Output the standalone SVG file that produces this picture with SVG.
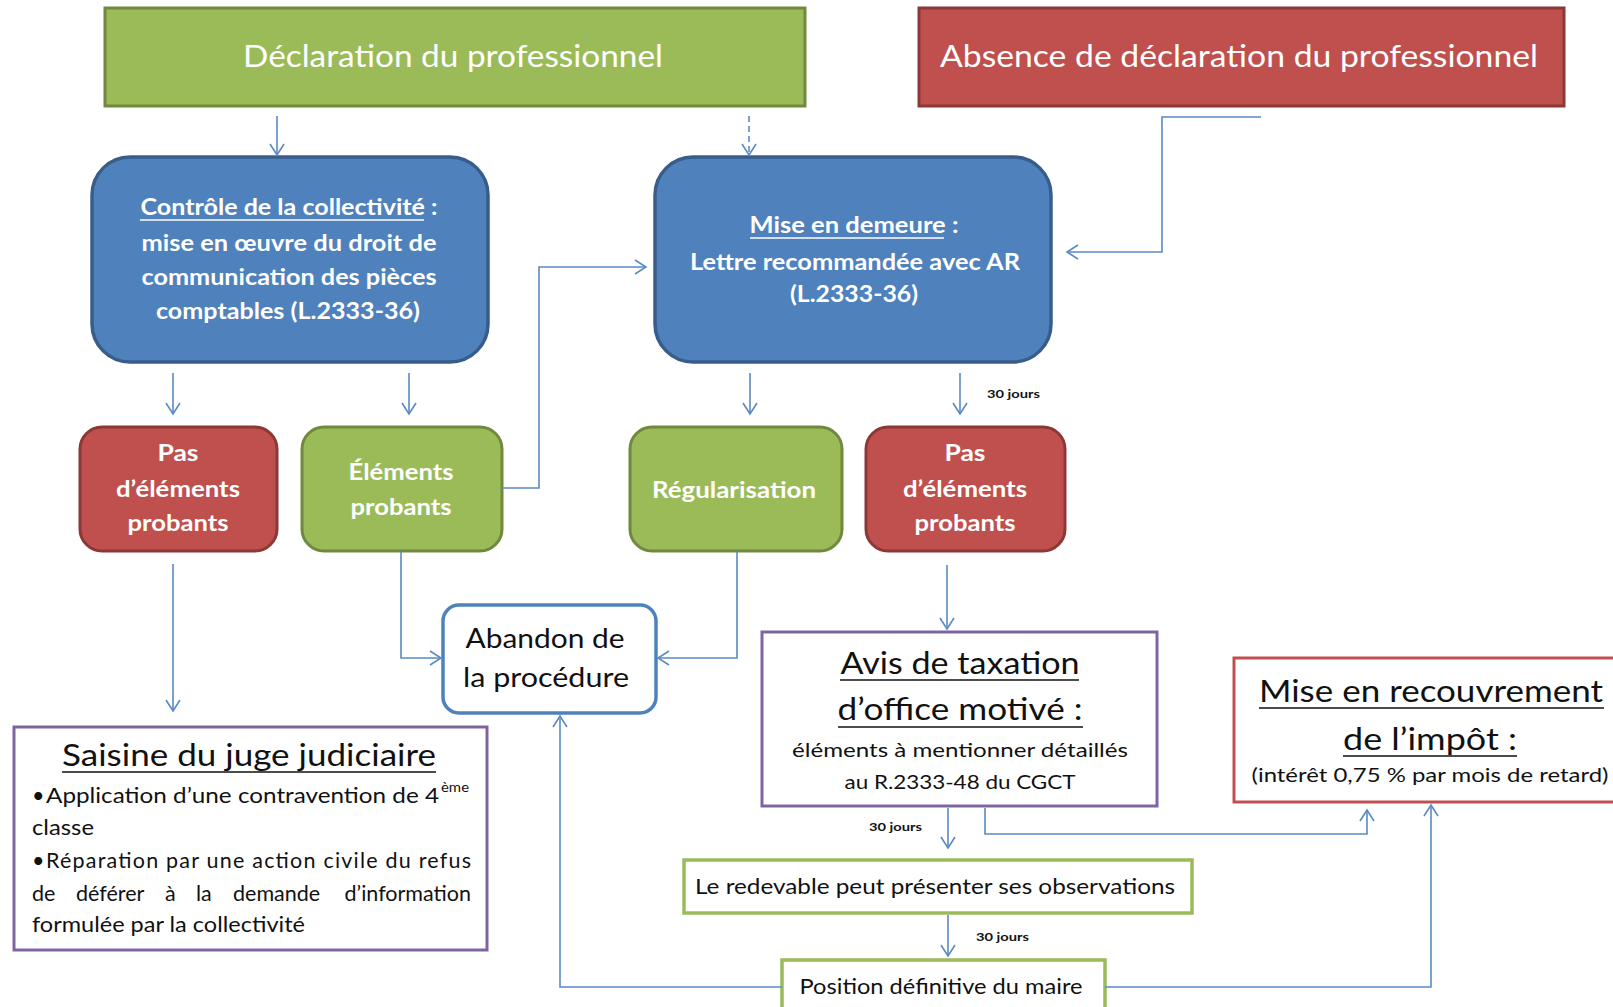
<svg xmlns="http://www.w3.org/2000/svg" width="1613" height="1007" viewBox="0 0 1613 1007">
<style>
  text { font-family: Lato, "Open Sans", "Liberation Sans", sans-serif; }
  .w { fill: #ffffff; }
  .k { fill: #111111; }
  .hd { font-size: 31px; }
  .bx { font-size: 22px; font-weight: bold; }
  .big { font-size: 30px; }
  .mid { font-size: 20px; }
  .body { font-size: 21.5px; }
  .lbl { font-size: 12px; font-weight: bold; }
  .g { fill: #9BBB59; stroke: #71893F; stroke-width: 3; }
  .r { fill: #C0504D; stroke: #8C3836; stroke-width: 3; }
  .b { fill: #4F81BD; stroke: #385D8A; stroke-width: 3.5; }
  .ulw { stroke: #ffffff; stroke-width: 1.5; }
  .ulk { stroke: #111111; stroke-width: 1.5; }
  .con { fill: none; stroke: #5B8AC5; stroke-width: 1.6; }
</style>
<defs>
  <marker id="arr" viewBox="-13 -9 15 18" refX="0" refY="0" markerWidth="15" markerHeight="18" markerUnits="userSpaceOnUse" orient="auto">
    <path d="M-11,-7 L0,0 L-11,7" fill="none" stroke="#5B8AC5" stroke-width="1.6"/>
  </marker>
</defs>
<rect width="1613" height="1007" fill="#ffffff"/>

<g id="n-declaration">
  <rect class="g" x="105" y="8" width="700" height="98"/>
  <text class="w hd" x="453" y="67" text-anchor="middle" textLength="420" lengthAdjust="spacingAndGlyphs">Déclaration du professionnel</text>
</g>
<g id="n-absence">
  <rect class="r" x="919" y="8" width="645" height="98"/>
  <text class="w hd" x="1239" y="67" text-anchor="middle" textLength="598" lengthAdjust="spacingAndGlyphs">Absence de déclaration du professionnel</text>
</g>
<g id="n-controle">
  <rect class="b" x="92" y="157" width="396" height="205" rx="38"/>
  <text class="w bx" x="289" y="215" text-anchor="middle" textLength="297" lengthAdjust="spacingAndGlyphs">Contrôle de la collectivité :</text>
  <line class="ulw" x1="140" y1="220" x2="424" y2="220"/>
  <text class="w bx" x="289" y="251" text-anchor="middle" textLength="295" lengthAdjust="spacingAndGlyphs">mise en œuvre du droit de</text>
  <text class="w bx" x="289" y="285" text-anchor="middle" textLength="295" lengthAdjust="spacingAndGlyphs">communication des pièces</text>
  <text class="w bx" x="288" y="319" text-anchor="middle" textLength="264" lengthAdjust="spacingAndGlyphs">comptables (L.2333-36)</text>
</g>
<g id="n-mise">
  <rect class="b" x="655" y="157" width="396" height="205" rx="38"/>
  <text class="w bx" x="854" y="233" text-anchor="middle" textLength="209" lengthAdjust="spacingAndGlyphs">Mise en demeure :</text>
  <line class="ulw" x1="750" y1="238" x2="944" y2="238"/>
  <text class="w bx" x="855" y="270" text-anchor="middle" textLength="330" lengthAdjust="spacingAndGlyphs">Lettre recommandée avec AR</text>
  <text class="w bx" x="854" y="302" text-anchor="middle" textLength="128" lengthAdjust="spacingAndGlyphs">(L.2333-36)</text>
</g>
<g id="n-pas1">
  <rect class="r" x="80" y="427" width="197" height="124" rx="22"/>
  <text class="w bx" x="178" y="461" text-anchor="middle" textLength="41" lengthAdjust="spacingAndGlyphs">Pas</text>
  <text class="w bx" x="178" y="497" text-anchor="middle" textLength="124" lengthAdjust="spacingAndGlyphs">d’éléments</text>
  <text class="w bx" x="178" y="531" text-anchor="middle" textLength="101" lengthAdjust="spacingAndGlyphs">probants</text>
</g>
<g id="n-elements">
  <rect class="g" x="302" y="427" width="200" height="124" rx="22"/>
  <text class="w bx" x="401" y="480" text-anchor="middle" textLength="105" lengthAdjust="spacingAndGlyphs">Éléments</text>
  <text class="w bx" x="401" y="515" text-anchor="middle" textLength="101" lengthAdjust="spacingAndGlyphs">probants</text>
</g>
<g id="n-regul">
  <rect class="g" x="630" y="427" width="212" height="124" rx="22"/>
  <text class="w bx" x="734" y="498" text-anchor="middle" textLength="164" lengthAdjust="spacingAndGlyphs">Régularisation</text>
</g>
<g id="n-pas2">
  <rect class="r" x="866" y="427" width="199" height="124" rx="22"/>
  <text class="w bx" x="965" y="461" text-anchor="middle" textLength="41" lengthAdjust="spacingAndGlyphs">Pas</text>
  <text class="w bx" x="965" y="497" text-anchor="middle" textLength="124" lengthAdjust="spacingAndGlyphs">d’éléments</text>
  <text class="w bx" x="965" y="531" text-anchor="middle" textLength="101" lengthAdjust="spacingAndGlyphs">probants</text>
</g>
<g id="n-abandon">
  <rect x="443" y="605" width="213" height="108" rx="16" fill="#ffffff" stroke="#4F81BD" stroke-width="3.5"/>
  <text class="k" font-size="27" x="545" y="648" text-anchor="middle" textLength="159" lengthAdjust="spacingAndGlyphs">Abandon de</text>
  <text class="k" font-size="27" x="546" y="687" text-anchor="middle" textLength="166" lengthAdjust="spacingAndGlyphs">la procédure</text>
</g>
<g id="n-avis">
  <rect x="762" y="632" width="395" height="174" fill="#ffffff" stroke="#8064A2" stroke-width="3"/>
  <text class="k big" x="960" y="674" text-anchor="middle" textLength="239" lengthAdjust="spacingAndGlyphs">Avis de taxation</text>
  <line class="ulk" x1="840" y1="680" x2="1079" y2="680"/>
  <text class="k big" x="960" y="720" text-anchor="middle" textLength="245" lengthAdjust="spacingAndGlyphs">d’office motivé :</text>
  <line class="ulk" x1="838" y1="727" x2="1083" y2="727"/>
  <text class="k mid" x="960" y="757" text-anchor="middle" textLength="336" lengthAdjust="spacingAndGlyphs">éléments à mentionner détaillés</text>
  <text class="k mid" x="960" y="789" text-anchor="middle" textLength="231" lengthAdjust="spacingAndGlyphs">au R.2333-48 du CGCT</text>
</g>
<g id="n-recouvrement">
  <rect x="1234" y="658" width="392" height="144" fill="#ffffff" stroke="#C0504D" stroke-width="3"/>
  <text class="k big" x="1431" y="702" text-anchor="middle" textLength="344" lengthAdjust="spacingAndGlyphs">Mise en recouvrement</text>
  <line class="ulk" x1="1259" y1="708" x2="1604" y2="708"/>
  <text class="k big" x="1430" y="750" text-anchor="middle" textLength="174" lengthAdjust="spacingAndGlyphs">de l’impôt :</text>
  <line class="ulk" x1="1343" y1="756" x2="1517" y2="756"/>
  <text class="k mid" x="1430" y="782" text-anchor="middle" textLength="357" lengthAdjust="spacingAndGlyphs">(intérêt 0,75 % par mois de retard)</text>
</g>
<g id="n-saisine">
  <rect x="14" y="727" width="473" height="223" fill="#ffffff" stroke="#8064A2" stroke-width="3"/>
  <text class="k" font-size="31" x="249" y="766" text-anchor="middle" textLength="374" lengthAdjust="spacingAndGlyphs">Saisine du juge judiciaire</text>
  <line class="ulk" x1="62" y1="772" x2="436" y2="772"/>
  <text class="k body" x="32" y="803">•</text>
  <text class="k body" x="46" y="803" textLength="393" lengthAdjust="spacingAndGlyphs">Application d’une contravention de 4</text>
  <text class="k" font-size="13" x="441" y="792" textLength="28" lengthAdjust="spacingAndGlyphs">ème</text>
  <text class="k body" x="32" y="835" textLength="62" lengthAdjust="spacingAndGlyphs">classe</text>
  <text class="k body" x="32" y="868">•</text>
  <text class="k body" x="46" y="868" textLength="425" lengthAdjust="spacing">Réparation par une action civile du refus</text>
  <text class="k body" y="901"><tspan x="32">de</tspan><tspan x="76">déférer</tspan><tspan x="165">à</tspan><tspan x="196">la</tspan><tspan x="233">demande</tspan></text>
  <text class="k body" x="471" y="901" text-anchor="end">d’information</text>
  <text class="k body" x="32" y="932" textLength="273" lengthAdjust="spacingAndGlyphs">formulée par la collectivité</text>
</g>
<g id="n-redevable">
  <rect x="684" y="860" width="508" height="53" fill="#ffffff" stroke="#9BBB59" stroke-width="3.5"/>
  <text class="k" font-size="22" x="935" y="894" text-anchor="middle" textLength="480" lengthAdjust="spacingAndGlyphs">Le redevable peut présenter ses observations</text>
</g>
<g id="n-position">
  <rect x="782" y="960" width="323" height="60" fill="#ffffff" stroke="#9BBB59" stroke-width="3.5"/>
  <text class="k" font-size="22" x="941" y="994" text-anchor="middle" textLength="283" lengthAdjust="spacingAndGlyphs">Position définitive du maire</text>
</g>

<g id="connectors">
  <path class="con" d="M277,116 V155" marker-end="url(#arr)"/>
  <path class="con" d="M749,116 V155" stroke-dasharray="6,4" marker-end="url(#arr)"/>
  <path class="con" d="M1261,117 H1162 V252 H1067" marker-end="url(#arr)"/>
  <path class="con" d="M173,373 V414" marker-end="url(#arr)"/>
  <path class="con" d="M409,373 V414" marker-end="url(#arr)"/>
  <path class="con" d="M502,488 H539 V267 H646" marker-end="url(#arr)"/>
  <path class="con" d="M750,373 V414" marker-end="url(#arr)"/>
  <path class="con" d="M960,373 V414" marker-end="url(#arr)"/>
  <path class="con" d="M173,564 V711" marker-end="url(#arr)"/>
  <path class="con" d="M401,552 V658 H441" marker-end="url(#arr)"/>
  <path class="con" d="M737,552 V658 H658" marker-end="url(#arr)"/>
  <path class="con" d="M947,565 V629" marker-end="url(#arr)"/>
  <path class="con" d="M948,808 V848" marker-end="url(#arr)"/>
  <path class="con" d="M985,808 V834 H1367 V810" marker-end="url(#arr)"/>
  <path class="con" d="M948,915 V956" marker-end="url(#arr)"/>
  <path class="con" d="M782,987 H560 V716" marker-end="url(#arr)"/>
  <path class="con" d="M1105,987 H1431 V805" marker-end="url(#arr)"/>
  <text class="k lbl" x="987" y="398" textLength="53" lengthAdjust="spacingAndGlyphs">30 jours</text>
  <text class="k lbl" x="869" y="831" textLength="53" lengthAdjust="spacingAndGlyphs">30 jours</text>
  <text class="k lbl" x="976" y="941" textLength="53" lengthAdjust="spacingAndGlyphs">30 jours</text>
</g>
</svg>
